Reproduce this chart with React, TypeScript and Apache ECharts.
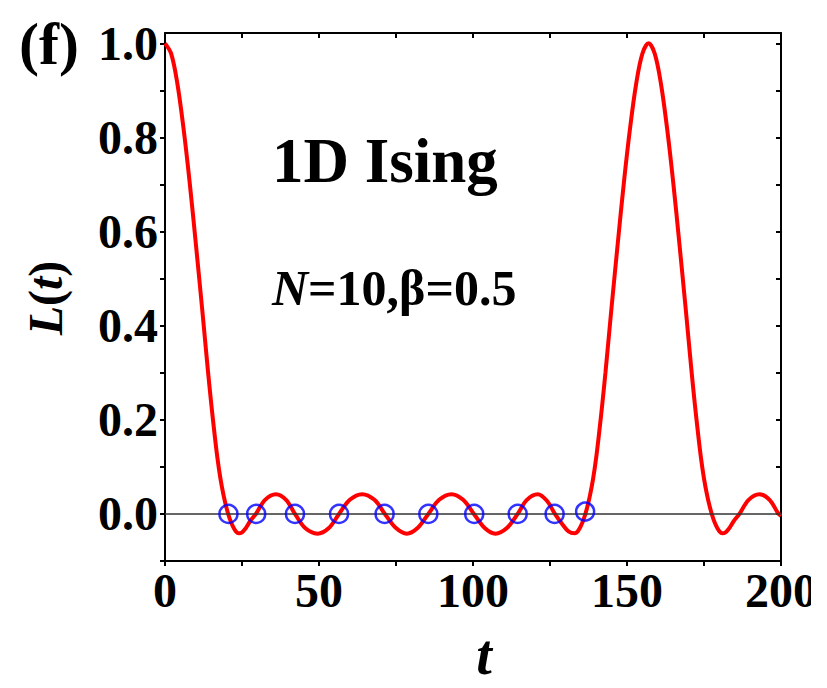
import React, { useEffect, useRef } from "react";
import * as echarts from "echarts";

// Loschmidt echo L(t)
const tValues = [
  0, 2, 4, 6, 8, 10, 12, 13, 14, 15, 16, 17, 18, 19, 20, 21, 22, 23, 24, 25, 26, 27, 28, 29.5,
  32.5, 36, 39.3, 42.2, 45.5, 49.5, 53.2, 56.5, 60, 64, 68, 71.4, 75, 78.5, 82, 85.5,
  89, 93, 96.8, 100.3, 103.8, 107.3, 111, 114.5, 117.5, 121, 124, 126.6,
  129, 131, 133, 134, 135, 136, 137, 138, 139, 140, 141, 142, 143, 144, 145, 147, 149, 151, 153, 155, 157,
  159, 161, 163, 165, 167, 169, 170, 171, 172, 173, 174, 175, 176, 177, 178, 179, 180, 181, 182, 183, 184, 185,
  186.5, 189.5, 193, 196.3, 199, 200,
];
const lValues = [
  1.0, 0.978, 0.915, 0.82, 0.705, 0.575, 0.44, 0.37, 0.3, 0.235, 0.175, 0.12, 0.075, 0.04, 0.012, -0.01, -0.026, -0.037, -0.041, -0.039, -0.032, -0.022, -0.012, 0,
  0.03, 0.042, 0.03, 0, -0.03, -0.042, -0.03, 0, 0.03, 0.042, 0.03, 0, -0.03, -0.042, -0.03, 0,
  0.03, 0.042, 0.03, 0, -0.03, -0.042, -0.03, 0, 0.03, 0.042, 0.028, 0,
  -0.022, -0.037, -0.041, -0.037, -0.026, -0.01, 0.012, 0.04, 0.075, 0.12, 0.175, 0.235, 0.3, 0.37, 0.44, 0.575, 0.705, 0.82, 0.915, 0.978, 1.0,
  0.978, 0.915, 0.82, 0.705, 0.575, 0.44, 0.37, 0.3, 0.235, 0.175, 0.12, 0.075, 0.04, 0.012, -0.01, -0.026, -0.037, -0.041, -0.039, -0.032, -0.022, -0.012,
  0, 0.03, 0.042, 0.03, 0.002, -0.004,
];

// zeros marked with blue circles
const zeroT = [20.6, 29.6, 42.2, 56.5, 71.3, 85.5, 100.4, 114.5, 126.5, 136.4];
const zeroL = [0, 0, 0, 0, 0, 0, 0, 0, 0, 0.005];

// axis ticks and labels
const xTicks = [0, 25, 50, 75, 100, 125, 150, 175, 200];
const xLabels = [0, 50, 100, 150, 200];
const yTicks = [-0.1, 0, 0.1, 0.2, 0.3, 0.4, 0.5, 0.6, 0.7, 0.8, 0.9, 1.0];
const yLabels = [0, 0.2, 0.4, 0.6, 0.8, 1.0];

const FONT = "'Liberation Serif', 'Times New Roman', serif";

export default function App() {
  const ref = useRef<HTMLDivElement>(null);

  useEffect(() => {
    if (!ref.current) return;
    const chart = echarts.init(ref.current, null, { renderer: "svg" });
    const lineData = tValues.map((t, i) => [t, lValues[i]]);
    const zeroData = zeroT.map((t, i) => [t, zeroL[i]]);
    const axisLine = { show: true, onZero: false, lineStyle: { color: "#000", width: 2 } };

    chart.setOption({
      animation: false,
      backgroundColor: "#fff",
      grid: { left: 165, right: 46, top: 33, bottom: 127, containLabel: false, outerBoundsMode: "none" },
      xAxis: [
        {
          type: "value",
          min: 0,
          max: 200,
          position: "bottom",
          axisLine,
          splitLine: { show: false },
          axisTick: { show: true, inside: false, length: 5, customValues: xTicks, lineStyle: { color: "#000", width: 2 } },
          axisLabel: {
            show: true,
            customValues: xLabels,
            margin: 5,
            fontFamily: FONT,
            fontWeight: "bold",
            fontSize: 48,
            color: "#000",
          },
        },
        {
          type: "value",
          min: 0,
          max: 200,
          position: "top",
          axisLine,
          splitLine: { show: false },
          axisTick: { show: true, inside: true, length: 5, customValues: xTicks, lineStyle: { color: "#000", width: 2 } },
          axisLabel: { show: false },
        },
      ],
      yAxis: [
        {
          type: "value",
          min: -0.1,
          max: 1.022,
          position: "left",
          axisLine,
          splitLine: { show: false },
          axisTick: { show: true, inside: false, length: 5, customValues: yTicks, lineStyle: { color: "#000", width: 2 } },
          axisLabel: {
            show: true,
            customValues: yLabels,
            margin: 7,
            formatter: (v: number) => v.toFixed(1),
            fontFamily: FONT,
            fontWeight: "bold",
            fontSize: 48,
            color: "#000",
          },
        },
        {
          type: "value",
          min: -0.1,
          max: 1.022,
          position: "right",
          axisLine,
          splitLine: { show: false },
          axisTick: { show: true, inside: true, length: 5, customValues: yTicks, lineStyle: { color: "#000", width: 2 } },
          axisLabel: { show: false },
        },
      ],
      series: [
        {
          type: "line",
          data: lineData,
          smooth: 0.35,
          showSymbol: false,
          lineStyle: { color: "#ff0000", width: 4 },
          z: 2,
        },
        {
          type: "line",
          data: [
            [0, 0],
            [200, 0],
          ],
          showSymbol: false,
          lineStyle: { color: "#333333", width: 1.6 },
          z: 3,
        },
        {
          type: "scatter",
          data: zeroData,
          symbol: "circle",
          symbolSize: 18,
          itemStyle: { color: "rgba(0,0,0,0)", borderColor: "#0000ff", borderWidth: 2.5 },
          z: 4,
        },
      ],
      graphic: [
        {
          type: "text",
          x: 19,
          y: 44,
          style: { text: "(f)", fontFamily: FONT, fontWeight: "bold", fontSize: 60, fill: "#000", verticalAlign: "middle" },
        },
        {
          type: "text",
          x: 272,
          y: 161,
          style: { text: "1D Ising", fontFamily: FONT, fontWeight: "bold", fontSize: 63, fill: "#000", verticalAlign: "middle" },
        },
        {
          type: "text",
          x: 272,
          y: 288,
          style: {
            text: "{i|N}=10,β=0.5",
            fontFamily: FONT,
            fontWeight: "bold",
            fontSize: 50,
            fill: "#000",
            verticalAlign: "middle",
            rich: { i: { fontFamily: FONT, fontWeight: "bold", fontStyle: "italic", fontSize: 50, fill: "#000" } },
          },
        },
        {
          type: "text",
          x: 45,
          y: 298,
          rotation: Math.PI / 2,
          style: {
            text: "{i|L}({i|t})",
            fontFamily: FONT,
            fontWeight: "bold",
            fontSize: 48,
            fill: "#000",
            align: "center",
            verticalAlign: "middle",
            rich: { i: { fontFamily: FONT, fontWeight: "bold", fontStyle: "italic", fontSize: 48, fill: "#000" } },
          },
        },
        {
          type: "text",
          x: 484,
          y: 655,
          style: { text: "t", fontFamily: FONT, fontWeight: "bold", fontStyle: "italic", fontSize: 56, fill: "#000", align: "center", verticalAlign: "middle" },
        },
        {
          type: "rect",
          shape: { x: 811, y: 560, width: 20, height: 60 },
          style: { fill: "#fff" },
          z: 100,
        },
      ],
    });
    return () => chart.dispose();
  }, []);

  return <div ref={ref} style={{ position: "absolute", left: 0, top: 0, width: 827, height: 688 }} />;
}
